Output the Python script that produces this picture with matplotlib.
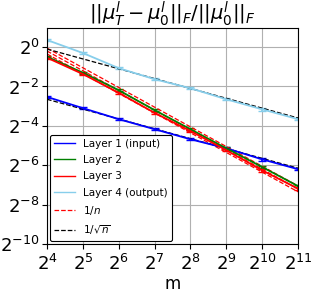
import numpy as np
import matplotlib
matplotlib.use("Agg")
import matplotlib.pyplot as plt
from matplotlib.lines import Line2D

m = [16, 32, 64, 128, 256, 512, 1024, 2048]
# log2 of relative change
layer1 = [-2.53, -3.10, -3.66, -4.17, -4.68, -5.14, -5.70, -6.20]
layer2 = [-0.49, -1.30, -2.19, -3.20, -4.17, -5.14, -6.09, -7.06]
layer3 = [-0.54, -1.37, -2.32, -3.34, -4.26, -5.24, -6.26, -7.19]
layer4 = [0.36, -0.30, -1.07, -1.63, -2.09, -2.65, -3.16, -3.66]
err_log = 0.06

inv_n_offsets = [-0.05, -0.2, -0.35]      # log2 value at m=16 for 1/n reference lines
inv_sqrt_offsets = [-0.1, -2.65]          # log2 value at m=16 for 1/sqrt(n) reference lines

fig = plt.figure(figsize=(3.19, 3.01), dpi=100)
ax = fig.add_axes([47/319, 1-244/301, (298-47)/319, (244-28)/301])

mm = np.array(m, dtype=float)
k = np.log2(mm) - 4

series = [(layer1, 'blue', 'Layer 1 (input)'),
          (layer2, 'green', 'Layer 2'),
          (layer3, 'red', 'Layer 3'),
          (layer4, 'skyblue', 'Layer 4 (output)')]
handles = []
for vals, col, lab in series:
    y = 2.0 ** np.array(vals)
    ax.errorbar(mm, y, yerr=[y - y*2**(-err_log), y*2**err_log - y], color=col,
                capsize=3, lw=1.3)
    handles.append(Line2D([], [], color=col, lw=1.0, label=lab))

for off in inv_n_offsets:
    ax.plot(mm, 2.0 ** (off - k), 'r--', lw=0.9)
for off in inv_sqrt_offsets:
    ax.plot(mm, 2.0 ** (off - 0.5*k), 'k--', lw=0.9)
handles.append(Line2D([], [], color='red', ls='--', lw=0.9, label='$1/n$'))
handles.append(Line2D([], [], color='black', ls='--', lw=0.9, label=r'$1/\sqrt{n}$'))

ax.set_xscale('log', base=2)
ax.set_yscale('log', base=2)
ax.set_xlim(16, 2048)
ax.set_ylim(2**-10, 2**0.97)
ax.set_xticks(m)
ax.set_yticks([2.0**e for e in [-10, -8, -6, -4, -2, 0]])
ax.minorticks_off()
ax.tick_params(labelsize=13)
ax.tick_params(axis='y', pad=2)
ax.grid(True, color='#b0b0b0', lw=0.8)
ax.set_xlabel('m', fontsize=12, labelpad=1)
ax.set_title(r'$||\mu_T^l - \mu_0^l||_F/||\mu_0^l||_F$', fontsize=14, pad=4)
leg = ax.legend(handles=handles, loc='lower left', fontsize=7.5, framealpha=1, edgecolor='black',
                handlelength=2.0, borderaxespad=0.3, labelspacing=0.6)
leg.get_frame().set_linewidth(0.8)
fig.savefig('out.png', dpi=100)
